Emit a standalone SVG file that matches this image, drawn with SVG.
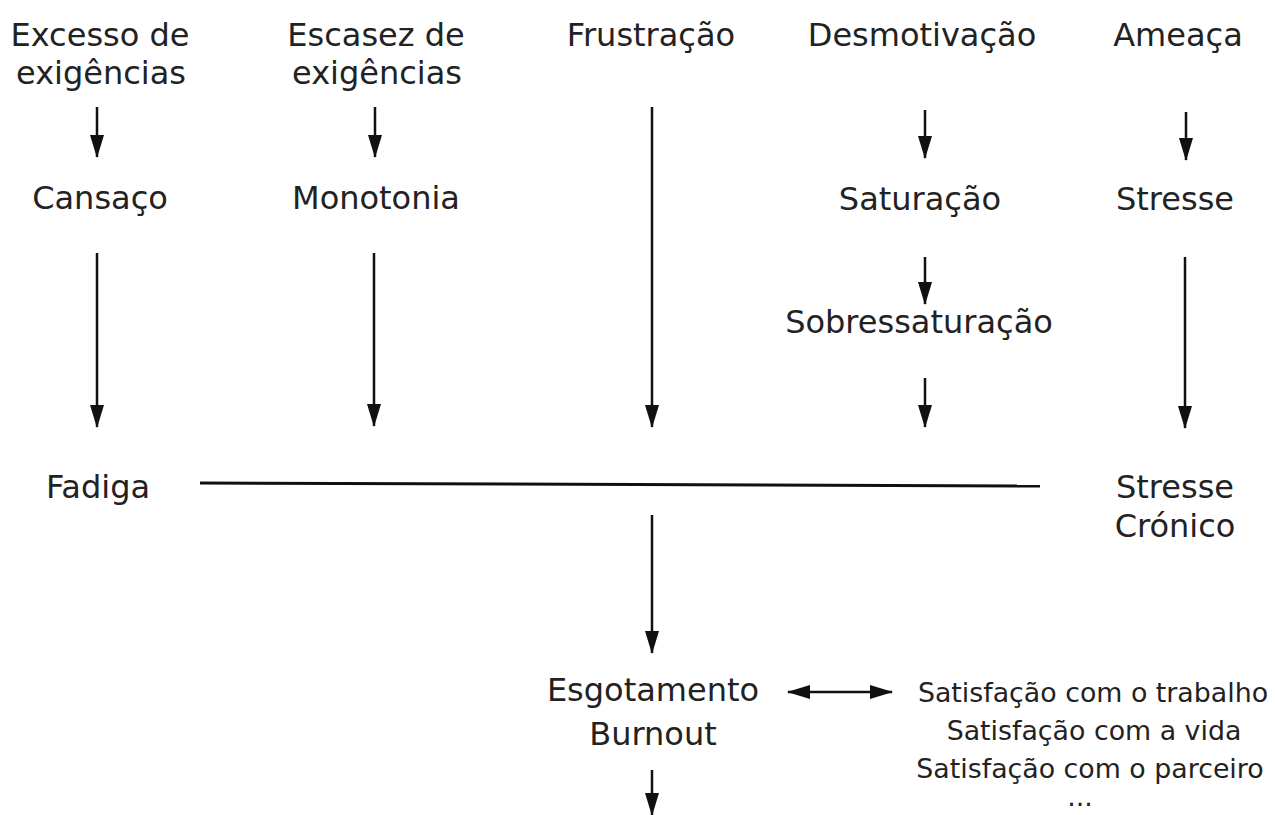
<svg xmlns="http://www.w3.org/2000/svg" width="1276" height="815" viewBox="0 0 1276 815">
<defs>
<style>
text{font-family:"DejaVu Sans","Liberation Sans",sans-serif;fill:#222;text-anchor:middle}
.t{font-size:32px}
.s{font-size:26.8px}
.c line{stroke:#111;stroke-width:2.5;fill:none}
.c line.a{marker-end:url(#ah)}
.c line.d{marker-end:url(#ah);marker-start:url(#ahs)}
</style>
<marker id="ah" markerUnits="userSpaceOnUse" markerWidth="23" markerHeight="14" refX="22" refY="7" orient="auto">
<path d="M0,0 L23,7 L0,14 z" fill="#111"/>
</marker>
<marker id="ahs" markerUnits="userSpaceOnUse" markerWidth="23" markerHeight="14" refX="1" refY="7" orient="auto">
<path d="M23,0 L0,7 L23,14 z" fill="#111"/>
</marker>
</defs>
<rect width="1276" height="815" fill="#fff"/>
<g id="n-excesso"><text class="t" x="100" y="46">Excesso de</text><text class="t" x="101" y="84">exigências</text></g>
<g id="n-escasez"><text class="t" x="376" y="46">Escasez de</text><text class="t" x="377" y="84">exigências</text></g>
<g id="n-frustracao"><text class="t" x="651" y="46">Frustração</text></g>
<g id="n-desmotivacao"><text class="t" x="922" y="46">Desmotivação</text></g>
<g id="n-ameaca"><text class="t" x="1178" y="46">Ameaça</text></g>
<g id="n-cansaco"><text class="t" x="100" y="209">Cansaço</text></g>
<g id="n-monotonia"><text class="t" x="376" y="209">Monotonia</text></g>
<g id="n-saturacao"><text class="t" x="920" y="210">Saturação</text></g>
<g id="n-stresse"><text class="t" x="1175" y="210">Stresse</text></g>
<g id="n-sobressaturacao"><text class="t" x="919" y="333">Sobressaturação</text></g>
<g id="n-fadiga"><text class="t" x="98" y="498">Fadiga</text></g>
<g id="n-stresse-cronico"><text class="t" x="1175" y="498">Stresse</text><text class="t" x="1175" y="537">Crónico</text></g>
<g id="n-esgotamento"><text class="t" x="653" y="701">Esgotamento</text><text class="t" x="653" y="745">Burnout</text></g>
<g id="n-satisfacao"><text class="s" x="1093" y="702">Satisfação com o trabalho</text><text class="s" x="1094" y="740">Satisfação com a vida</text><text class="s" x="1090" y="778">Satisfação com o parceiro</text><text class="s" x="1080" y="806">...</text></g>
<g id="connectors" class="c">
<line class="a" x1="97" y1="107" x2="97" y2="157"/>
<line class="a" x1="375" y1="107" x2="375" y2="157"/>
<line class="a" x1="652" y1="107" x2="652" y2="427"/>
<line class="a" x1="925" y1="110" x2="925" y2="158"/>
<line class="a" x1="1186" y1="112" x2="1186" y2="160"/>
<line class="a" x1="97" y1="253" x2="97" y2="427"/>
<line class="a" x1="374" y1="253" x2="374" y2="426"/>
<line class="a" x1="925" y1="257" x2="925" y2="304"/>
<line class="a" x1="925" y1="378" x2="925" y2="427"/>
<line class="a" x1="1185" y1="257" x2="1185" y2="428"/>
<line style="stroke-width:3" x1="200" y1="483" x2="1040" y2="486"/>
<line class="a" x1="652" y1="515" x2="652" y2="653"/>
<line class="a" x1="652" y1="770" x2="652" y2="815"/>
<line class="d" x1="788" y1="692" x2="892" y2="692"/>
</g>
</svg>
